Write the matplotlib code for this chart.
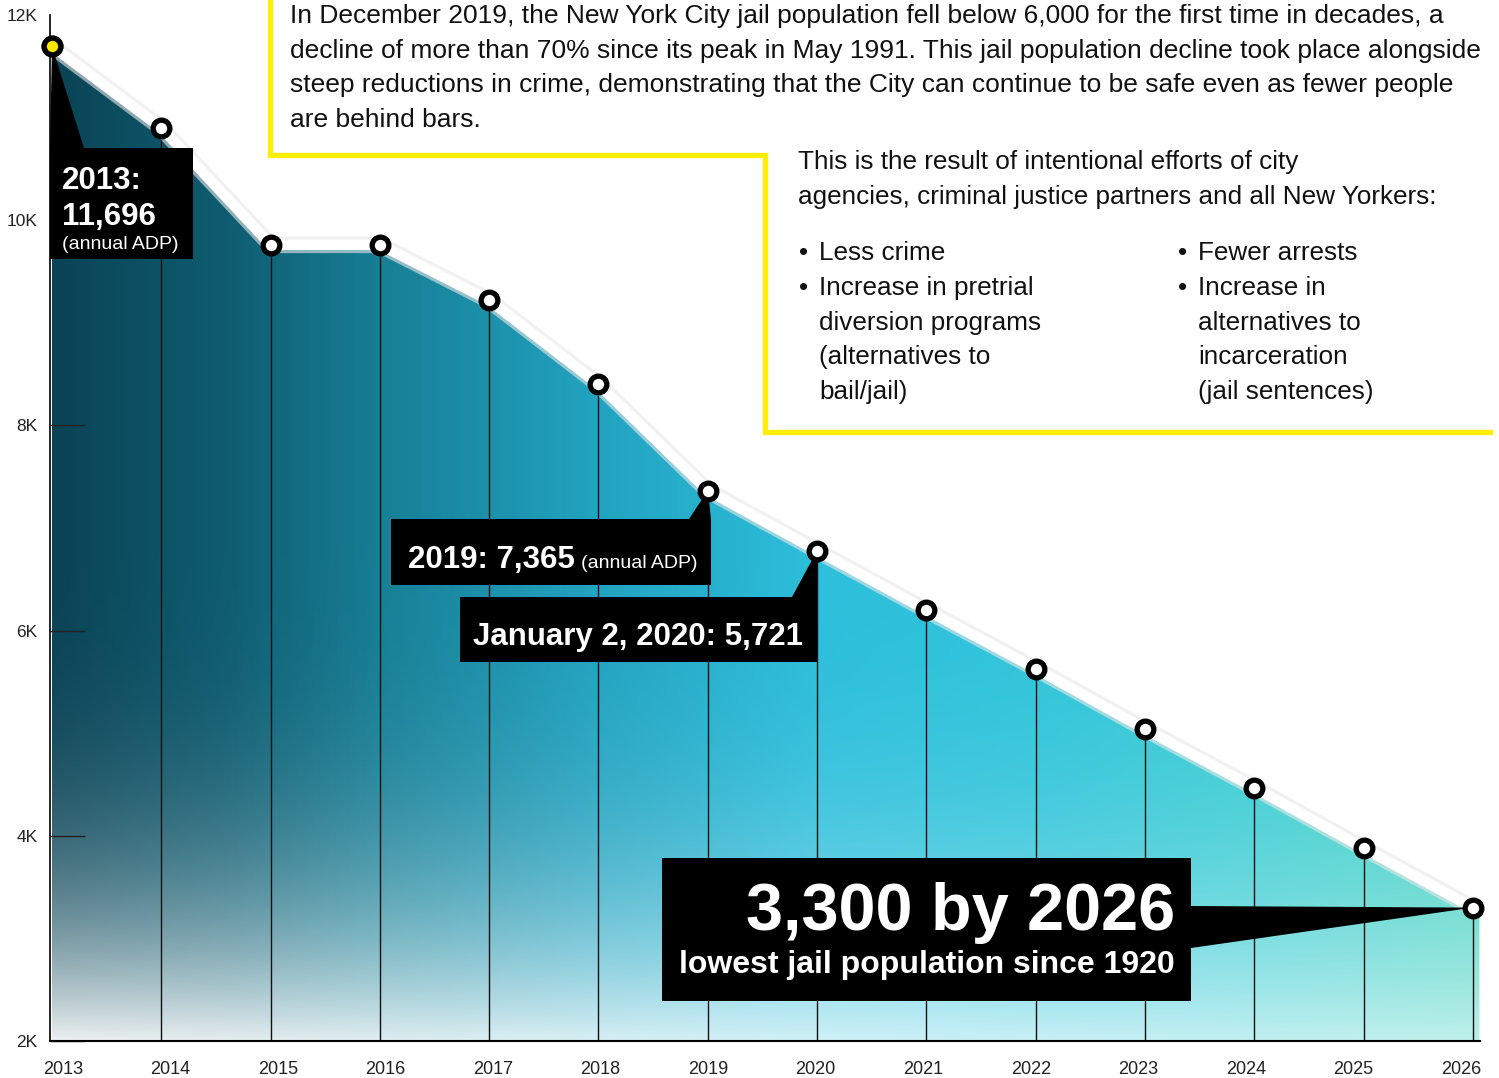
import numpy as np
import matplotlib.pyplot as plt
from matplotlib.patches import Polygon, Rectangle
from matplotlib.colors import LinearSegmentedColormap

plt.rcParams['font.family'] = ['Liberation Sans', 'DejaVu Sans']

years = [2013, 2014, 2015, 2016, 2017, 2018, 2019, 2020, 2021, 2022, 2023, 2024, 2025, 2026]
population = [11696, 10900, 9760, 9760, 9220, 8400, 7365, 6780, 6200, 5630, 5040, 4470, 3880, 3300]
year_labels = [str(y) for y in years]
y_ticks = [2000, 4000, 6000, 8000, 10000, 12000]
y_tick_labels = ["2K", "4K", "6K", "8K", "10K", "12K"]

intro_lines = [
    "In December 2019, the New York City jail population fell below 6,000 for the first time in decades, a",
    "decline of more than 70% since its peak in May 1991. This jail population decline took place alongside",
    "steep reductions in crime, demonstrating that the City can continue to be safe even as fewer people",
    "are behind bars.",
]
result_lines = [
    "This is the result of intentional efforts of city",
    "agencies, criminal justice partners and all New Yorkers:",
]
# "*" marks the first line of a bullet
left_bullets = ["*Less crime", "*Increase in pretrial", "diversion programs",
                "(alternatives to", "bail/jail)"]
right_bullets = ["*Fewer arrests", "*Increase in", "alternatives to",
                 "incarceration", "(jail sentences)"]

W, H = 1499, 1078
fig = plt.figure(figsize=(W / 100, H / 100), dpi=100)
ax = fig.add_axes([50 / W, 37 / H, 1430 / W, 1026 / H])
ax.set_xlim(2012.982, 2026.065)
ax.set_ylim(2000, 12000)


def F(px, py):
    # pixel position (from top-left) -> figure fraction
    return px / W, 1 - py / H


# gradient fill clipped to the area under the line
stops = [(0.0, '#0a4456'), (0.12, '#0f5c70'), (0.23, '#177f96'), (0.38, '#22a3c0'),
         (0.54, '#2dbfdc'), (0.7, '#31c5da'), (0.85, '#3ccdd2'), (1.0, '#4ad4c4')]
cmap = LinearSegmentedColormap.from_list('jail', stops)
gx = np.linspace(0, 1, 600)
gv = np.linspace(12000, 2000, 400)
rgb = cmap(gx)[:, :3][None, :, :]
w = 0.92 * np.clip(1 - (gv - 2000) / 5000, 0, 1)[:, None] ** 3 * (1 - 0.3 * gx)[None, :]
img = rgb * (1 - w[:, :, None]) + w[:, :, None]
im = ax.imshow(img, extent=(2013, 2026.06, 2000, 12000), aspect='auto', zorder=1)
area = Polygon(list(zip(years, population)) + [(2026.06, 3300), (2026.06, 2000), (2013, 2000)],
               closed=True, transform=ax.transData, facecolor='none', edgecolor='none')
ax.add_patch(area)
im.set_clip_path(area)

ax.vlines(years[1:], 2000, population[1:], color='#111111', lw=1, zorder=2)

# white glow line with markers
ax.plot(years, population, color='#e8e8e8', lw=12, alpha=0.6, zorder=3, solid_capstyle='round')
ax.plot(years, population, color='white', lw=7.5, zorder=3, solid_capstyle='round')
ax.plot(years, population, 'o', ms=12, mfc='white', mec='black', mew=3.8, zorder=7, clip_on=False)
ax.plot(years[:1], population[:1], 'o', ms=12, mfc='#ffe600', mec='black', mew=3.8, zorder=8, clip_on=False)

for s in ['top', 'right']:
    ax.spines[s].set_visible(False)
ax.spines['left'].set_linewidth(1.2)
ax.spines['bottom'].set_linewidth(1.5)
ax.set_yticks(y_ticks, y_tick_labels)
ax.tick_params(axis='y', direction='in', length=25, width=1, color='#222222', pad=9,
               labelsize=12.5, labelcolor='#222222')
ax.yaxis.get_major_ticks()[-1].tick1line.set_visible(False)
ax.set_xticks(np.linspace(2013.1, 2025.89, len(years)), year_labels)
ax.tick_params(axis='x', length=0, pad=14.5, labelsize=13, labelcolor='#222222')


def tip(i):
    return fig.transFigure.inverted().transform(ax.transData.transform((years[i], population[i])))


def box(x0, y0, x1, y1, pointer):
    ax.add_patch(Rectangle(F(x0, y1), (x1 - x0) / W, (y1 - y0) / H, transform=fig.transFigure,
                           facecolor='black', edgecolor='none', zorder=5, clip_on=False))
    ax.add_patch(Polygon(pointer, closed=True, transform=fig.transFigure,
                         facecolor='black', edgecolor='none', zorder=5, clip_on=False))


def label(px, py, s, **kw):
    kw.setdefault('color', 'white')
    ax.text(*F(px, py), s, transform=fig.transFigure, zorder=6, clip_on=False, **kw)


# 2013 callout
box(50, 148, 193, 259, [tip(0), F(50, 148), F(84, 148)])
label(62, 189, "2013:", fontsize=22.5, fontweight='bold', va='baseline')
label(62, 225, "11,696", fontsize=22.5, fontweight='bold', va='baseline')
label(62, 249, "(annual ADP)", fontsize=14, va='baseline')

# 2019 callout
box(391, 519, 711, 585, [tip(6), F(689, 519), F(711, 519)])
label(408, 568, "2019: 7,365", fontsize=22.5, fontweight='bold', va='baseline')
label(581, 568, "(annual ADP)", fontsize=14, va='baseline')

# January 2020 callout
box(460, 597, 817, 662, [tip(7), F(792, 597), F(817, 597)])
label(473, 645, "January 2, 2020: 5,721", fontsize=22.5, fontweight='bold', va='baseline')

# 2026 target callout
box(662, 858, 1191, 1001, [tip(13), F(1191, 906), F(1191, 948)])
label(1175, 930, "3,300 by 2026", fontsize=48, fontweight='bold', va='baseline', ha='right')
label(1175, 973, "lowest jail population since 1920", fontsize=23, fontweight='bold',
      va='baseline', ha='right')

# yellow frame
yellow = '#ffee00'
fig.add_artist(plt.Line2D([270 / W, 270 / W, 765 / W, 765 / W, 1490 / W],
                          [1, 1 - 155 / H, 1 - 155 / H, 1 - 432 / H, 1 - 432 / H],
                          color=yellow, lw=3.8, transform=fig.transFigure, solid_joinstyle='miter'))

txt = dict(fontsize=19, color='#111111', va='baseline')
for i, line in enumerate(intro_lines):
    fig.text(*F(290, 23 + i * 34.7), line, **txt)
txt['fontsize'] = 18.8
for i, line in enumerate(result_lines):
    fig.text(*F(798, 169 + i * 35), line, **txt)
for x0, lines in [(799, left_bullets), (1178, right_bullets)]:
    for i, line in enumerate(lines):
        y = 260 + i * 34.8
        if line.startswith('*'):
            fig.text(*F(x0, y), "\u2022", **txt)
            fig.text(*F(x0 + 20, y), line[1:], **txt)
        else:
            fig.text(*F(x0 + 20, y), line, **txt)

fig.savefig('out.png', dpi=100, facecolor='white')
